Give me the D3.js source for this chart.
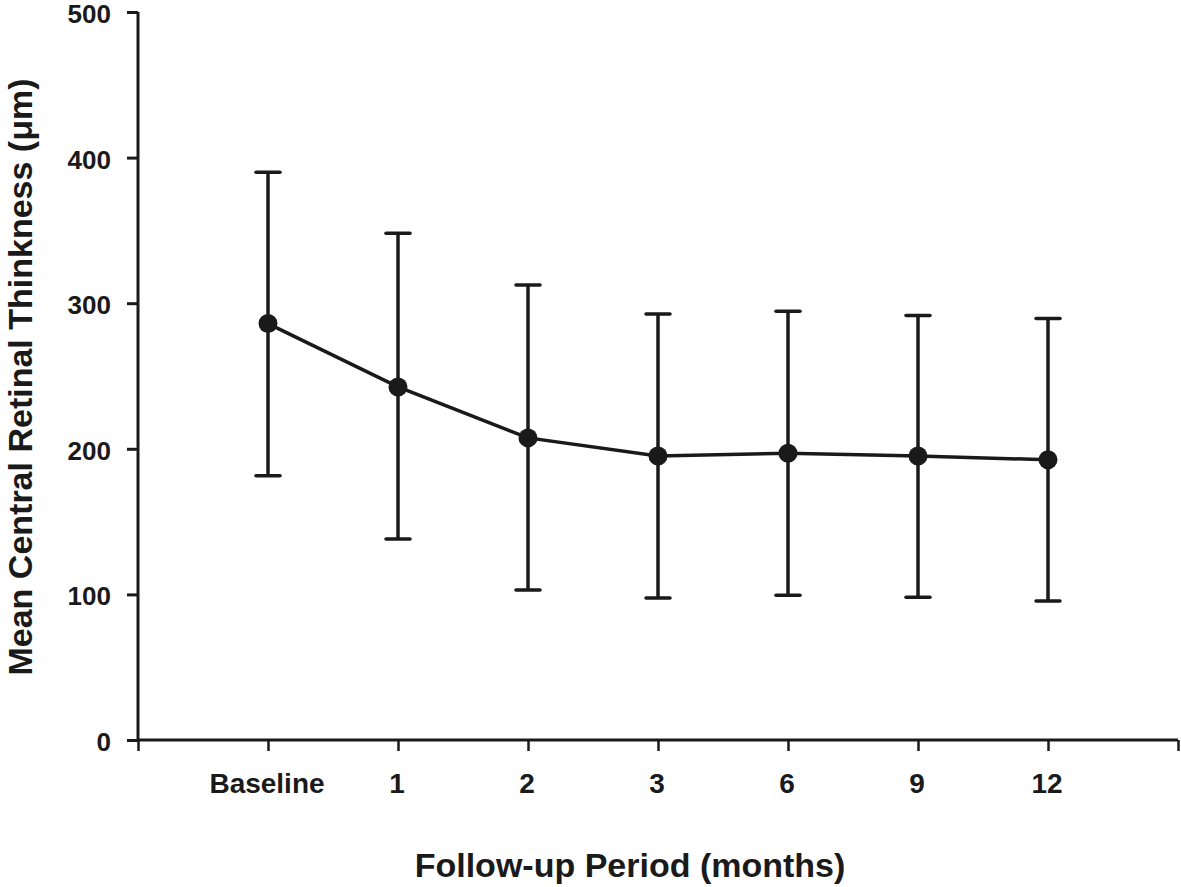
<!DOCTYPE html>
<html><head><meta charset="utf-8">
<script src="https://cdn.jsdelivr.net/npm/d3@7"></script>
<style>body{margin:0;background:#fff}</style>
</head><body>
<svg id="c" width="1181" height="887"></svg>
<script>
const categories = ["Baseline","1","2","3","6","9","12"];
const means = [286, 242.5, 207.5, 195, 197, 195, 192.5];
const upper = [390, 348, 312.5, 292.5, 294.5, 291.5, 289.5];
const lower = [181.5, 138, 103, 97.5, 99.5, 98, 95.5];
const yTicks = [0,100,200,300,400,500];

const svg = d3.select("#c");
const ink = "#1a1a1a";
const x = d3.scaleLinear().domain([0, 8]).range([138, 1178]);
const y = d3.scaleLinear().domain([0, 500]).range([740, 12]);
const font = "Liberation Sans, Arial, sans-serif";

// y axis
const ya = svg.append("g").attr("transform","translate(138,0)")
  .call(d3.axisLeft(y).tickValues(yTicks).tickSize(11).tickPadding(16).tickFormat(d3.format("d")));
ya.select(".domain").attr("stroke", ink).attr("stroke-width",3).attr("d","M0,12V740");
ya.selectAll(".tick line").attr("stroke", ink).attr("stroke-width",3);
ya.selectAll(".tick text").attr("font-family",font).attr("font-weight","bold").attr("font-size",26).attr("fill",ink).attr("dy","0.4em");

// x axis
const xa = svg.append("g").attr("transform","translate(0,740)")
  .call(d3.axisBottom(x).tickValues(d3.range(0,9)).tickSize(11).tickFormat(""));
xa.select(".domain").attr("stroke", ink).attr("stroke-width",3).attr("d","M138,0H1178");
xa.selectAll(".tick line").attr("stroke", ink).attr("stroke-width",2.5);

svg.append("g").selectAll("text").data(categories).join("text")
  .attr("x",(d,i)=>x(i+1)-1).attr("y",793)
  .attr("text-anchor","middle").attr("font-family",font).attr("font-weight","bold")
  .attr("font-size",28).attr("fill",ink).text(d=>d);

// error bars
const eb = svg.append("g").attr("stroke",ink).attr("stroke-width",3.5);
categories.forEach((c,i)=>{
  const cx = x(i+1);
  eb.append("line").attr("x1",cx).attr("x2",cx).attr("y1",y(upper[i])).attr("y2",y(lower[i]));
  eb.append("line").attr("x1",cx-12).attr("x2",cx+12).attr("y1",y(upper[i])).attr("y2",y(upper[i])).attr("stroke-linecap","round");
  eb.append("line").attr("x1",cx-12).attr("x2",cx+12).attr("y1",y(lower[i])).attr("y2",y(lower[i])).attr("stroke-linecap","round");
});

// line
const line = d3.line().x((d,i)=>x(i+1)).y(d=>y(d));
svg.append("path").datum(means).attr("d",line).attr("fill","none").attr("stroke",ink).attr("stroke-width",3.5);
svg.append("g").selectAll("circle").data(means).join("circle")
  .attr("cx",(d,i)=>x(i+1)).attr("cy",d=>y(d)).attr("r",9.5).attr("fill",ink);

// titles
svg.append("text").attr("x",630).attr("y",877).attr("text-anchor","middle")
  .attr("font-family",font).attr("font-weight","bold").attr("font-size",34).attr("fill",ink)
  .text("Follow-up Period (months)");
svg.append("text").attr("transform","translate(32,377) rotate(-90)").attr("text-anchor","middle")
  .attr("font-family",font).attr("font-weight","bold").attr("font-size",34).attr("fill",ink)
  .text("Mean Central Retinal Thinkness (μm)");
</script>
</body></html>
